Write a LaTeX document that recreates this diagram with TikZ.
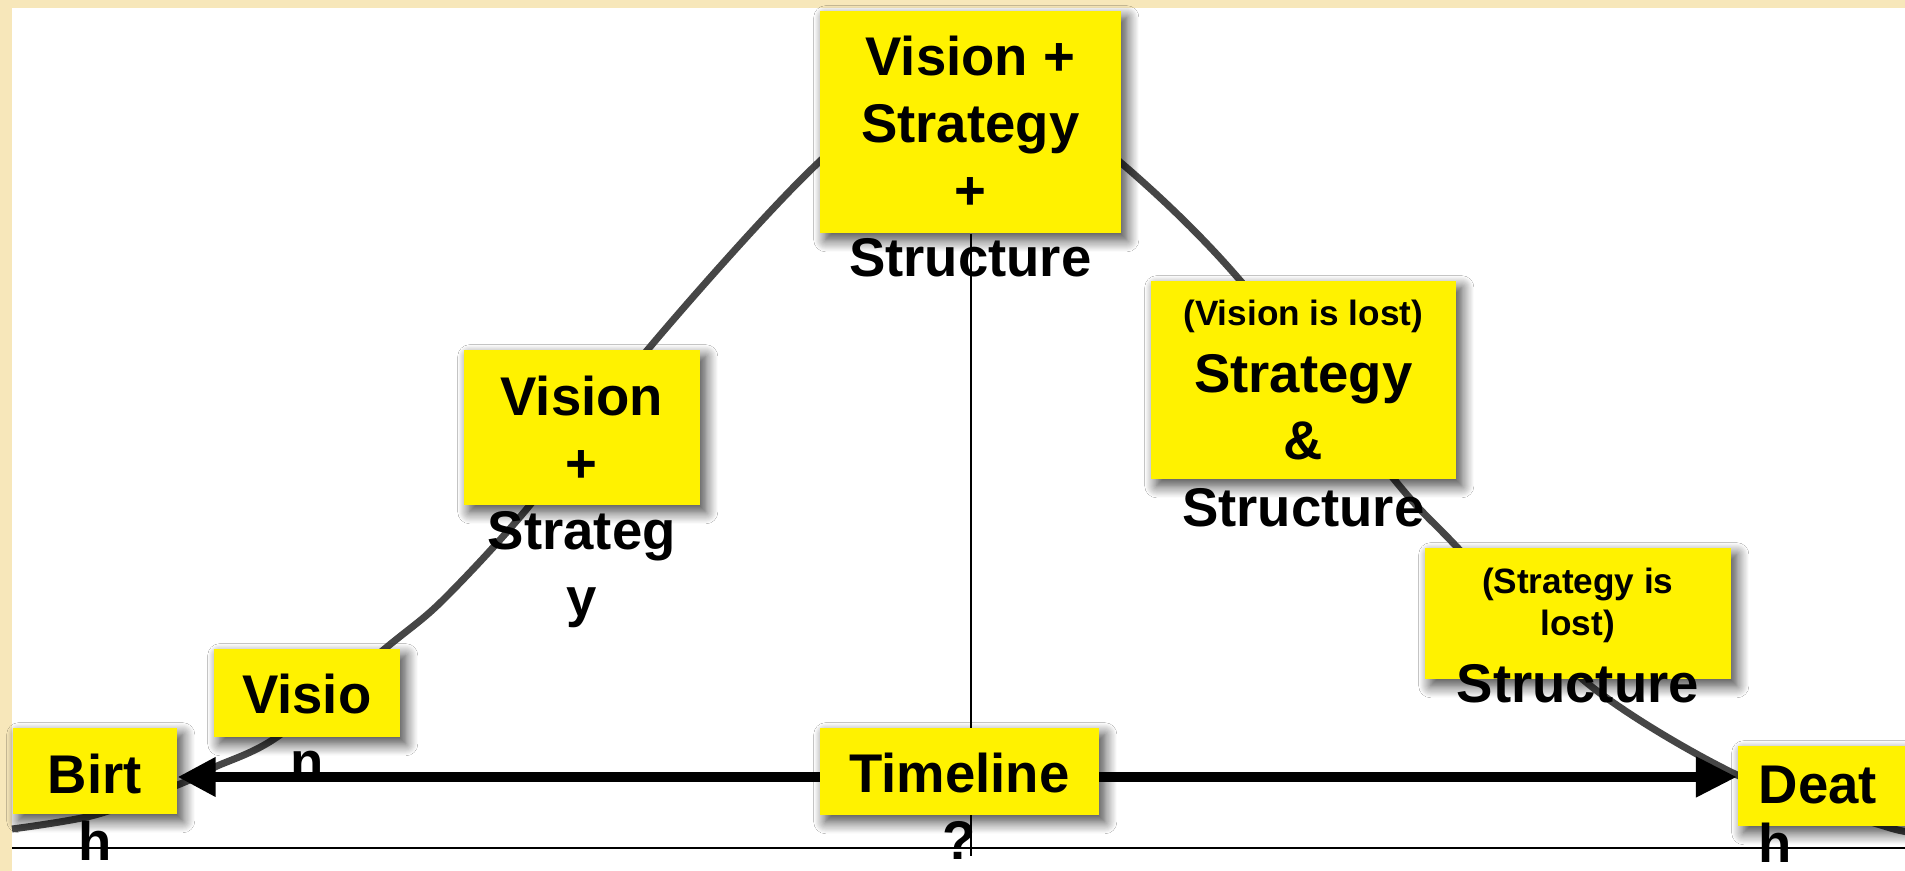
\documentclass[tikz,border=0pt]{standalone}
\usepackage{fontspec}
\setmainfont{Liberation Sans}
\usetikzlibrary{arrows.meta,shadows.blur}

\definecolor{parchment}{RGB}{247,231,186}
\definecolor{curvegray}{RGB}{70,70,70}
\newcommand{\lostfont}{\fontsize{10}{12}\selectfont}

\begin{document}
\begin{tikzpicture}[x=0.01cm, y=-0.01cm,
  stick/.style = {fill=yellow, inner sep=0pt, align=flush center, anchor=north west,
    font=\bfseries\fontsize{15.5}{19}\selectfont,
    blur shadow={shadow xshift=0.06cm, shadow yshift=-0.07cm, shadow blur radius=0.12cm, shadow blur steps=12, shadow opacity=75}},
  lifeline/.style = {curvegray, line width=0.07cm}]
\useasboundingbox (0,0) rectangle (1905,871);
\fill[white] (0,0) rectangle (1905,871);
\fill[parchment] (0,0) rectangle (12,871);
\fill[parchment] (0,0) rectangle (1905,8);

% life cycle curve
\draw[lifeline] plot[smooth] coordinates {(12,829) (95,815) (180,784) (215,767) (277,737) (387,647) (443,600) (530,505) (650,347) (818,163) (969,48) (1120,162) (1238,278) (1393,478) (1455,545) (1587,683) (1737,775) (1887,827) (1920,832)};

\node[stick, text width=1.64cm, text height=0.66cm, text depth=0.20cm] (birth)      at (12,727)   {Birt\\h};
\node[stick, text width=1.86cm, text height=0.65cm, text depth=0.23cm] (vision)     at (213,648)  {Visio\\n};
\node[stick, text width=2.36cm, text height=0.66cm, text depth=0.89cm] (visstrat)   at (463,349)  {Vision\\+\\Strateg\\y};
\node[stick, text width=3.01cm, text height=0.65cm, text depth=1.57cm] (vss)        at (819,10)   {Vision +\\Strategy\\+\\Structure};
\node[stick, text width=3.05cm, text height=0.45cm, text depth=1.53cm] (lostvision) at (1150,280) {{\lostfont (Vision is lost)\par}Strategy\\\&\\Structure};
\node[stick, text width=3.06cm, text height=0.46cm, text depth=0.85cm] (loststrat)  at (1424,547) {{\lostfont (Strategy is\\lost)\par}Structure};
\node[stick, align=flush left, inner xsep=0.21cm, text width=1.62cm, text height=0.58cm, text depth=0.22cm] (death) at (1737,745) {Deat\\[-2.2pt]h};

\coordinate (axisl) at (12,848);
\coordinate (axisr) at (1905,848);
\coordinate (axisb) at (971,856);
\coordinate (tl)    at (958,777);

\draw[line width=0.025cm] (axisl) -- (axisr);
\draw[line width=0.022cm] (vss.south -| axisb) -- (axisb);
\draw[line width=0.10cm, {Triangle[length=0.38cm,width=0.37cm]}-{Triangle[length=0.41cm,width=0.38cm]}] (birth.east |- tl) -- (death.west |- tl);

\node[stick, text width=2.79cm, text height=0.65cm, text depth=0.22cm] (timeline) at (819,727) {Timeline\\?};
\end{tikzpicture}
\end{document}
